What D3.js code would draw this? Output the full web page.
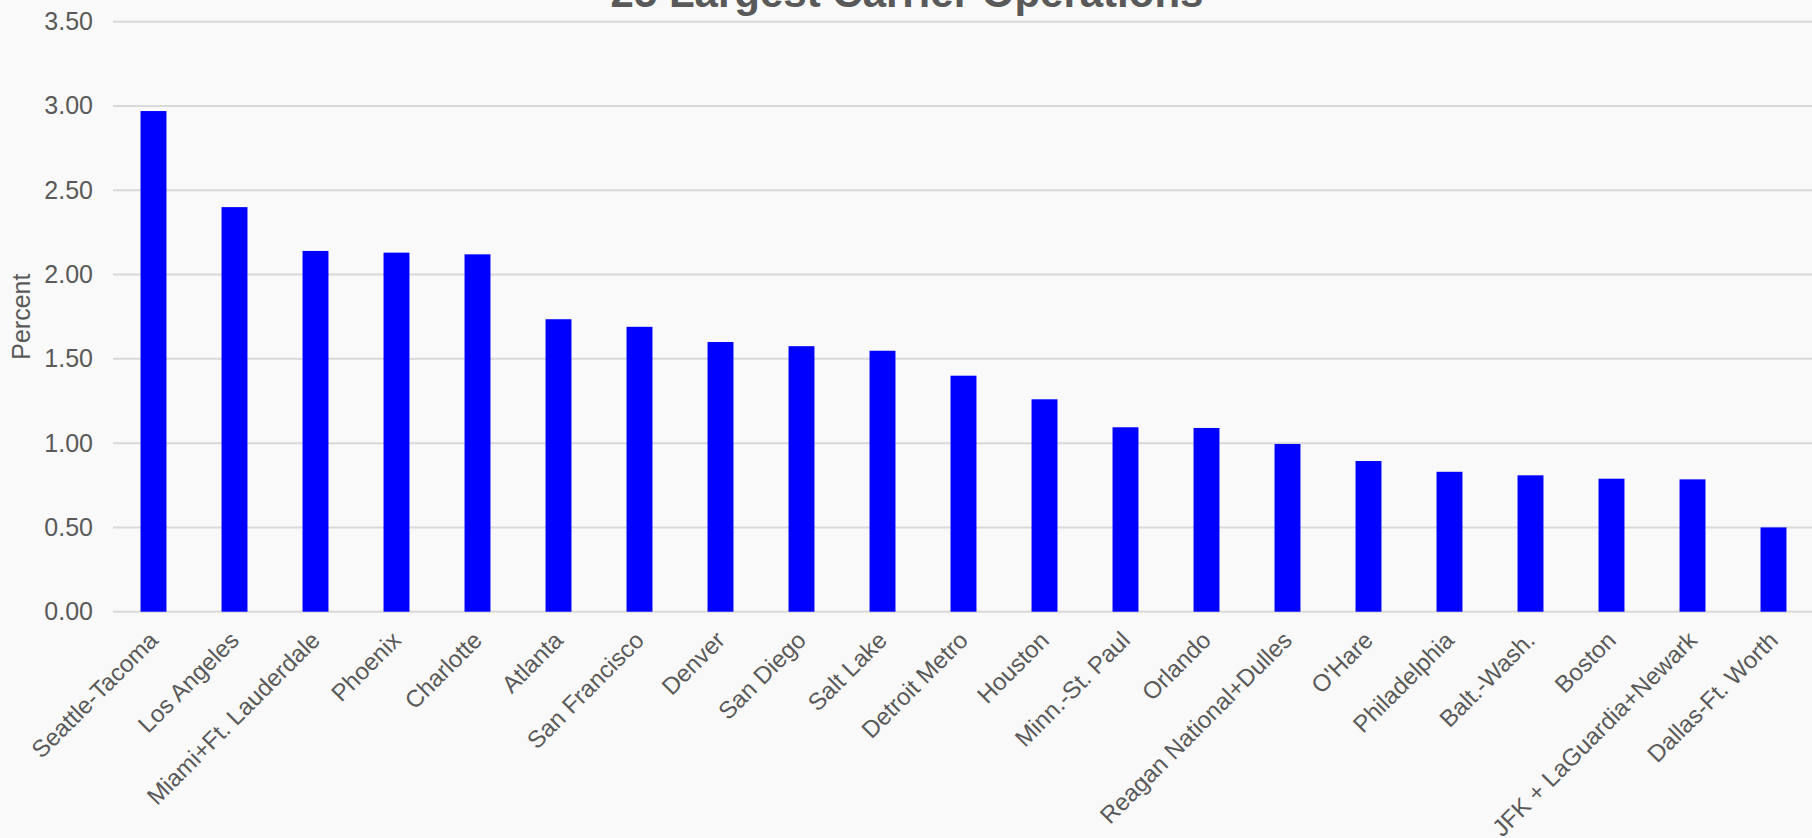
<!DOCTYPE html>
<html>
<head>
<meta charset="utf-8">
<script src="https://cdn.jsdelivr.net/npm/d3@7"></script>
<style>
  body { margin: 0; background: #f9f9f9; }
  svg { display: block; font-family: "Liberation Sans", Arial, sans-serif; }
</style>
</head>
<body>
<svg id="chart"></svg>
<script>
// Chart data
const airports = [
  "Seattle-Tacoma", "Los Angeles", "Miami+Ft. Lauderdale", "Phoenix", "Charlotte",
  "Atlanta", "San Francisco", "Denver", "San Diego", "Salt Lake",
  "Detroit Metro", "Houston", "Minn.-St. Paul", "Orlando", "Reagan National+Dulles",
  "O'Hare", "Philadelphia", "Balt.-Wash.", "Boston", "JFK + LaGuardia+Newark",
  "Dallas-Ft. Worth"
];
const percents = [
  2.97, 2.40, 2.14, 2.13, 2.12,
  1.735, 1.69, 1.60, 1.575, 1.548,
  1.40, 1.26, 1.094, 1.09, 0.995,
  0.894, 0.83, 0.809, 0.789, 0.785,
  0.50
];
const yTicks = [0, 0.5, 1, 1.5, 2, 2.5, 3, 3.5];

const title = "25 Largest Carrier Operations";
const yLabel = "Percent";

// Layout
const width = 1812;
const height = 838;
const textColor = "#595959";
const gridColor = "#d9d9d9";

const svg = d3.select("#chart").attr("width", width).attr("height", height);

svg.append("rect")
  .attr("width", width)
  .attr("height", height)
  .attr("fill", "#f9f9f9");

const x = d3.scaleBand()
  .domain(airports)
  .range([113, 1814])
  .paddingInner(0.68)
  .paddingOuter(0.34);

const y = d3.scaleLinear()
  .domain([0, 3.5])
  .range([611.7, 21.7]);

// Gridlines
svg.append("g")
  .selectAll("line")
  .data(yTicks)
  .join("line")
  .attr("x1", 113)
  .attr("x2", width)
  .attr("y1", d => y(d))
  .attr("y2", d => y(d))
  .attr("stroke", gridColor)
  .attr("stroke-width", 2);

// Y axis labels
const yAxis = svg.append("g")
  .attr("transform", "translate(93,0)")
  .call(d3.axisLeft(y).tickValues(yTicks).tickFormat(d3.format(".2f")).tickSize(0).tickPadding(0));
yAxis.select(".domain").remove();
yAxis.selectAll("text")
  .attr("fill", textColor)
  .attr("font-size", 25)
  .attr("font-family", "Liberation Sans, Arial, sans-serif");

// Bars
svg.append("g")
  .selectAll("rect")
  .data(percents)
  .join("rect")
  .attr("x", (d, i) => x(airports[i]))
  .attr("width", x.bandwidth())
  .attr("y", d => y(d))
  .attr("height", d => y(0) - y(d))
  .attr("fill", "#0000ff");

// X axis labels
const xAxis = svg.append("g")
  .attr("transform", `translate(0,${y(0)})`)
  .call(d3.axisBottom(x).tickSize(0).tickPadding(0));
xAxis.select(".domain").remove();
xAxis.selectAll("text")
  .attr("fill", textColor)
  .attr("font-size", 24)
  .attr("font-family", "Liberation Sans, Arial, sans-serif")
  .attr("text-anchor", "end")
  .attr("y", 0)
  .attr("dy", 0)
  .attr("transform", "translate(6,30) rotate(-45)");

// Axis title
svg.append("text")
  .attr("transform", `translate(30,${(y(0) + y(3.5)) / 2}) rotate(-90)`)
  .attr("text-anchor", "middle")
  .attr("fill", textColor)
  .attr("font-size", 25)
  .text(yLabel);

// Chart title (sits mostly above the visible area)
svg.append("text")
  .attr("x", 907)
  .attr("y", 7)
  .attr("text-anchor", "middle")
  .attr("fill", textColor)
  .attr("font-size", 42)
  .attr("font-weight", "bold")
  .text(title);
</script>
</body>
</html>
